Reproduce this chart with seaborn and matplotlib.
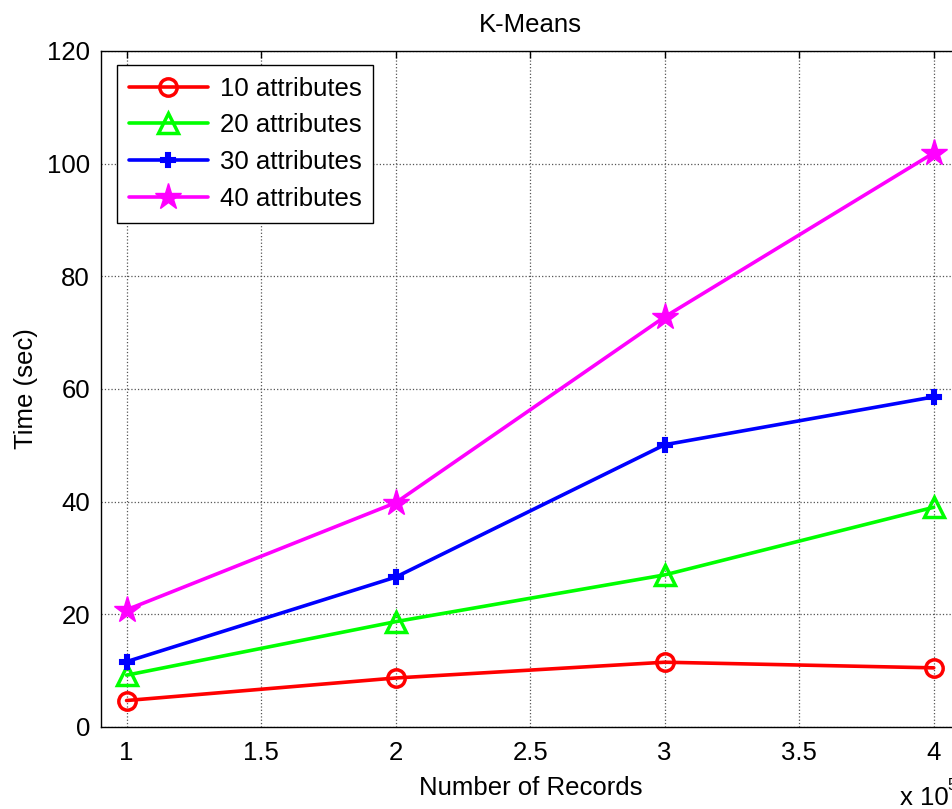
import numpy as np
import pandas as pd
import matplotlib
matplotlib.use("Agg")
import matplotlib.pyplot as plt
import seaborn as sns

# number of records, in units of 10^5
records = [1, 2, 3, 4]

# time (sec) per attribute count
t10 = [4.7, 8.7, 11.5, 10.5]
t20 = [9.2, 18.7, 27.0, 39.0]
t30 = [11.6, 26.6, 50.1, 58.6]
t40 = [20.8, 39.8, 72.8, 101.9]

labels = ["10 attributes", "20 attributes", "30 attributes", "40 attributes"]
series = [t10, t20, t30, t40]

sns.set_style("white")
plt.rcParams["font.family"] = ["Liberation Sans", "DejaVu Sans"]
plt.rcParams["text.color"] = "black"
plt.rcParams["axes.labelcolor"] = "black"
FS = 18.5

fig = plt.figure(figsize=(9.52, 8.09), dpi=100)
ax = fig.add_axes([101 / 952, 82 / 809, 859.6 / 952, 676 / 809])

styles = [
    dict(color="#ff0000", marker="o", mfc="none", mec="#ff0000", ms=12.5, mew=2.5),
    dict(color="#00ff00", marker="^", mfc="none", mec="#00ff00", ms=15, mew=2.5),
    dict(color="#0000ff", marker="P", mfc="#0000ff", mec="#0000ff", ms=10, mew=1.5),
    dict(color="#ff00ff", marker="*", mfc="#ff00ff", mec="#ff00ff", ms=20, mew=1.0),
]

for lab, vals, st in zip(labels, series, styles):
    df = pd.DataFrame({"records": records, "time": vals})
    sns.lineplot(data=df, x="records", y="time", ax=ax, label=lab,
                 linewidth=2.6, **st)

ax.set_xlim(0.905, 4.1)
ax.set_ylim(0, 120)
ax.set_xticks([1, 1.5, 2, 2.5, 3, 3.5, 4])
ax.set_xticklabels(["1", "1.5", "2", "2.5", "3", "3.5", "4"])
ax.set_yticks(np.arange(0, 121, 20))

ax.grid(True, linestyle=":", color="#555555", linewidth=0.9)
ax.tick_params(direction="in", length=5, width=1, labelsize=FS,
               top=True, right=True, colors="black")
ax.tick_params(axis="x", pad=10)
ax.tick_params(axis="y", pad=8)
for sp in ax.spines.values():
    sp.set_color("black")
    sp.set_linewidth(1.0)

ax.set_title("K-Means", fontsize=FS, pad=14, color="black")
ax.set_xlabel("Number of Records", fontsize=FS, labelpad=8)
ax.set_ylabel("Time (sec)", fontsize=FS, labelpad=6)

fig.text(900 / 952, 1 - 805 / 809, "x 10", fontsize=FS, va="baseline")
fig.text(947 / 952, 1 - 790 / 809, "5", fontsize=12, va="baseline")

leg = ax.legend(loc="upper left", bbox_to_anchor=(117 / 952, 1 - 65 / 809),
                bbox_transform=fig.transFigure, fontsize=FS,
                frameon=True, fancybox=False, handlelength=3.1,
                borderpad=0.45, labelspacing=0.5, handletextpad=0.45,
                borderaxespad=0)
leg.get_frame().set_edgecolor("black")
leg.get_frame().set_linewidth(1.0)
leg.get_frame().set_alpha(1)
for t in leg.get_texts():
    t.set_color("black")

fig.savefig("out.png", dpi=100)
